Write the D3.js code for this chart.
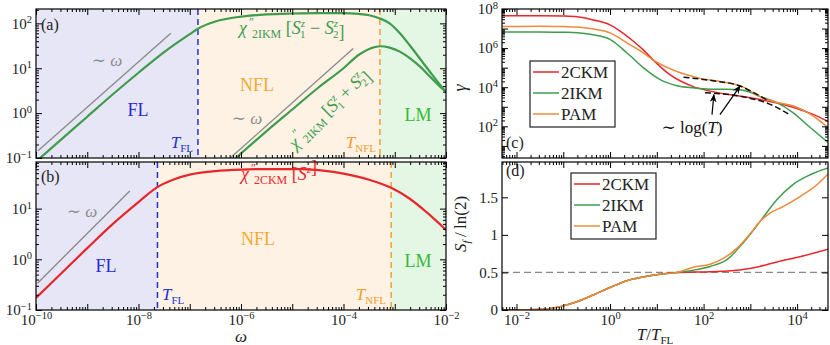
<!DOCTYPE html>
<html>
<head>
<meta charset="utf-8">
<script src="https://cdn.jsdelivr.net/npm/d3@7"></script>
<style>
  body { margin: 0; background: #fff; }
  svg { display: block; }
  text { font-family: "Liberation Serif", "DejaVu Serif", serif; }
</style>
</head>
<body>
<svg id="chart" width="830" height="345"></svg>
<script>
// values, pairs are [log10 x, log10 y] (panel d: [log10 T, S])
const omegaLabelExps = [-10, -8, -6, -4, -2];
const chiALabelExps = [-1, 0, 1, 2];
const chiBLabelExps = [-1, 0, 1];
const tLabelExps = [-2, 0, 2, 4];
const gammaLabelExps = [2, 4, 6, 8];
const entropyTicks = [0, 0.5, 1, 1.5];

const chi2IKMminus = [[-10, -1.08], [-9.5, -0.58], [-9, -0.08], [-8.5, 0.42], [-8, 0.9], [-7.5, 1.36],
  [-7, 1.76], [-6.84, 1.88], [-6.5, 2.04], [-6, 2.15], [-5.5, 2.2], [-5, 2.22], [-4.5, 2.23], [-4, 2.23],
  [-3.7, 2.21], [-3.5, 2.18], [-3.29, 2.11], [-3.1, 2.0], [-2.9, 1.78], [-2.7, 1.5], [-2.5, 1.2],
  [-2.3, 0.9], [-2.15, 0.68], [-2, 0.47]];
const chi2IKMplus = [[-6.1, -1], [-5.5, -0.4], [-5, 0.08], [-4.5, 0.56], [-4, 1.0], [-3.7, 1.3],
  [-3.5, 1.43], [-3.29, 1.49], [-3.1, 1.46], [-2.9, 1.37], [-2.7, 1.22], [-2.5, 1.03], [-2.3, 0.8],
  [-2.15, 0.63], [-2, 0.47]];
const chi2CKM = [[-10, -0.76], [-9.5, -0.27], [-9, 0.22], [-8.5, 0.7], [-8, 1.13], [-7.64, 1.42],
  [-7.3, 1.58], [-7, 1.67], [-6.5, 1.74], [-6, 1.77], [-5.5, 1.78], [-4.8, 1.78], [-4.4, 1.75],
  [-4, 1.69], [-3.5, 1.57], [-3.07, 1.41], [-2.7, 1.19], [-2.38, 0.93], [-2, 0.58]];
const slopeA1 = [[-9.96, -0.84], [-7.37, 1.78]];
const slopeA2 = [[-6.21, -1], [-3.81, 1.44]];
const slopeB = [[-9.97, -0.47], [-8.17, 1.35]];
const crossoverA = { fl: -6.84, nfl: -3.29 };
const crossoverB = { fl: -7.63, nfl: -3.07 };

const gamma2CKM = [[-2.31, 7.66], [-1.5, 7.66], [-1, 7.64], [-0.7, 7.6], [-0.36, 7.44], [0, 7.19],
  [0.2, 6.9], [0.5, 6.35], [0.71, 5.91], [0.92, 5.4], [1.28, 4.64], [1.78, 4.03], [2.14, 3.8],
  [2.84, 3.52], [3.42, 3.27], [3.91, 2.98], [4.3, 2.65], [4.66, 2.25]];
const gamma2IKM = [[-2.31, 6.83], [-1.5, 6.83], [-1, 6.81], [-0.7, 6.79], [-0.36, 6.68], [0, 6.45],
  [0.36, 5.76], [0.71, 5.0], [1.07, 4.39], [1.43, 4.08], [1.78, 3.97], [2.14, 3.9], [2.5, 3.89],
  [2.84, 3.85], [3.21, 3.52], [3.57, 3.21], [3.91, 2.7], [4.28, 1.94], [4.66, 1.18]];
const gammaPAM = [[-2.31, 7.1], [-1.5, 7.12], [-1, 7.1], [-0.7, 7.08], [-0.36, 6.98], [0, 6.78],
  [0.36, 6.27], [0.71, 5.76], [0.92, 5.4], [1.43, 4.8], [1.86, 4.49], [2.5, 4.23], [2.78, 4.08],
  [3.21, 3.52], [3.49, 3.27], [3.91, 3.05], [4.3, 2.6], [4.66, 1.94]];
const logFitPAM = [[1.57, 4.51], [2.2, 4.33], [2.78, 4.06], [3.05, 3.75], [3.35, 3.35]];
const logFit2CKM = [[2.03, 3.72], [2.84, 3.51], [3.4, 3.15], [3.85, 2.58]];
const arrowTips = [[2.22, 3.62], [2.78, 4.06]];
const arrowTails = [[2.18, 2.6], [2.35, 2.6]];

const entropyLow = [[-2.31, 0], [-2, 0.002], [-1.43, 0.01], [-1.07, 0.045], [-0.71, 0.11], [-0.36, 0.2],
  [0, 0.3], [0.36, 0.39], [0.71, 0.44], [1.07, 0.476], [1.43, 0.5]];
const entropy2CKM = entropyLow.concat([[1.78, 0.505], [2.14, 0.51], [2.5, 0.52], [2.84, 0.54],
  [3.2, 0.58], [3.57, 0.64], [4.06, 0.71], [4.66, 0.81]]);
const entropy2IKM = entropyLow.concat([[1.78, 0.53], [2.14, 0.58], [2.5, 0.67], [2.84, 0.89],
  [3.21, 1.18], [3.57, 1.47], [3.91, 1.67], [4.28, 1.8], [4.66, 1.89]]);
const entropyPAM = entropyLow.concat([[1.78, 0.57], [2.14, 0.61], [2.43, 0.69], [2.71, 0.82],
  [3.0, 1.02], [3.21, 1.18], [3.42, 1.29], [3.71, 1.38], [4.06, 1.51], [4.43, 1.67], [4.66, 1.81]]);

const models = ["2CKM", "2IKM", "PAM"];
const modelColors = ["#e8262b", "#3f9c4d", "#ee8a3a"];

const svg = d3.select('#chart');
const defs = svg.append('defs');

const xW = d3.scaleLog().domain([1e-10, 1e-2]).range([36, 446]);
const yA = d3.scaleLog().domain([0.1, 10 ** 2.32]).range([158, 9]);
const yB = d3.scaleLog().domain([0.1, 10 ** 1.92]).range([310, 162]);
const xT = d3.scaleLog().domain([10 ** -2.31, 10 ** 4.66]).range([502, 828]);
const yC = d3.scaleLog().domain([10 ** 0.38, 1e8]).range([158, 9]);
const yD = d3.scaleLinear().domain([0, 1.97]).range([310, 162]);

defs.append('marker').attr('id', 'arrow').attr('viewBox', '0 0 10 10').attr('refX', 9).attr('refY', 5)
  .attr('markerWidth', 7).attr('markerHeight', 7).attr('orient', 'auto-start-reverse')
  .append('path').attr('d', 'M0,1 L10,5 L0,9 L3,5 Z').attr('fill', '#000');

function clipFor(id, x, y) {
  defs.append('clipPath').attr('id', id).append('rect')
    .attr('x', x.range()[0]).attr('y', y.range()[1])
    .attr('width', x.range()[1] - x.range()[0]).attr('height', y.range()[0] - y.range()[1]);
  return `url(#${id})`;
}

function logLine(x, y) {
  return d3.line().x(d => x(10 ** d[0])).y(d => y(10 ** d[1])).curve(d3.curveMonotoneX);
}
function semiLogLine(x, y) {
  return d3.line().x(d => x(10 ** d[0])).y(d => y(d[1])).curve(d3.curveMonotoneX);
}

function logTicks(scale) {
  const [lo, hi] = scale.domain().map(Math.log10);
  const majors = [], minors = [];
  for (let k = Math.floor(lo); k <= Math.ceil(hi); k++) {
    if (k >= lo - 1e-9 && k <= hi + 1e-9) majors.push(10 ** k);
    for (let m = 2; m < 10; m++) {
      const v = m * 10 ** k;
      if (Math.log10(v) >= lo && Math.log10(v) <= hi) minors.push(v);
    }
  }
  return { majors, minors };
}

function powLabel(sel, exp) {
  sel.text('');
  sel.append('tspan').text('10');
  sel.append('tspan').attr('dy', '-0.5em').attr('font-size', 10.5)
    .text(exp < 0 ? '\u2212' + (-exp) : exp);
}

function addAxis(g, gen, scale, majors, minors, transform, labelFn) {
  const gm = g.append('g').attr('transform', transform)
    .call(gen(scale).tickValues(majors).tickSizeInner(-6).tickSizeOuter(0).tickPadding(4).tickFormat(() => ''));
  gm.select('.domain').remove();
  gm.attr('font-family', null).attr('font-size', 15);
  gm.selectAll('.tick line').attr('stroke', '#000');
  if (minors.length) {
    const gn = g.append('g').attr('transform', transform)
      .call(gen(scale).tickValues(minors).tickSizeInner(-3).tickSizeOuter(0).tickFormat(() => ''));
    gn.select('.domain').remove();
    gn.selectAll('.tick line').attr('stroke', '#000');
  }
  if (labelFn) gm.selectAll('.tick text').attr('fill', '#222').each(function (d) { labelFn(d3.select(this), d); });
}

function frame(g, x, y) {
  g.append('rect').attr('x', x.range()[0]).attr('y', y.range()[1])
    .attr('width', x.range()[1] - x.range()[0]).attr('height', y.range()[0] - y.range()[1])
    .attr('fill', 'none').attr('stroke', '#000').attr('stroke-width', 1.2);
}

function logAxes(g, x, y, xLabels, yLabels) {
  const tx = logTicks(x), ty = logTicks(y);
  const [x0, x1] = x.range(), [y1, y0] = y.range();
  const lab = set => (sel, d) => {
    const e = Math.round(Math.log10(d));
    if (set && set.includes(e)) powLabel(sel, e); else sel.text('');
  };
  addAxis(g, d3.axisBottom, x, tx.majors, tx.minors, `translate(0,${y1})`, lab(xLabels));
  addAxis(g, d3.axisTop, x, tx.majors, tx.minors, `translate(0,${y0})`, null);
  addAxis(g, d3.axisLeft, y, ty.majors, ty.minors, `translate(${x0},0)`, lab(yLabels));
  addAxis(g, d3.axisRight, y, ty.majors, ty.minors, `translate(${x1},0)`, null);
}

function rich(parent, x, y, parts, attrs = {}) {
  const t = parent.append('text').attr('x', x).attr('y', y);
  Object.entries(attrs).forEach(([k, v]) => t.attr(k, v));
  parts.forEach(p => {
    const o = p[1] || {};
    const s = t.append('tspan').text(p[0]);
    if (o.i) s.attr('font-style', 'italic');
    if (o.s) s.attr('font-size', o.s);
    if (o.dy) s.attr('dy', o.dy);
    if (o.dx) s.attr('dx', o.dx);
  });
  return t;
}

const sub = (txt, label) => [[txt, { i: 1 }], [label, { s: 11, dy: 4 }]];

// ---------- left panels ----------
function regimePanel(id, y, cross, curves, slopes, labels) {
  const g = svg.append('g');
  const [y1, y0] = y.range();
  const xs = [xW.domain()[0], 10 ** cross.fl, 10 ** cross.nfl, xW.domain()[1]];
  const fills = ['#e6e6f6', '#fdf2e4', '#e4f6e4'];
  fills.forEach((f, i) => g.append('rect').attr('x', xW(xs[i])).attr('y', y0)
    .attr('width', xW(xs[i + 1]) - xW(xs[i])).attr('height', y1 - y0).attr('fill', f));
  const cp = clipFor(id, xW, y);
  const plot = g.append('g').attr('clip-path', cp);
  slopes.forEach(s => plot.append('path').attr('d', logLine(xW, y)(s))
    .attr('fill', 'none').attr('stroke', '#8c8c8c').attr('stroke-width', 1.4));
  plot.append('line').attr('x1', xW(10 ** cross.fl)).attr('x2', xW(10 ** cross.fl)).attr('y1', y0).attr('y2', y1)
    .attr('stroke', '#2233cc').attr('stroke-width', 1.5).attr('stroke-dasharray', '6,4');
  plot.append('line').attr('x1', xW(10 ** cross.nfl)).attr('x2', xW(10 ** cross.nfl)).attr('y1', y0).attr('y2', y1)
    .attr('stroke', '#f4a030').attr('stroke-width', 1.5).attr('stroke-dasharray', '6,4');
  curves.forEach(c => plot.append('path').attr('d', logLine(xW, y)(c.data))
    .attr('fill', 'none').attr('stroke', c.color).attr('stroke-width', 2.2));
  labels(g);
  return g;
}

const chiParts = (model, spin) => [['\u03C7', { i: 1 }], ['\u2033', { s: 12, dy: -8, dx: 2 }],
  [model, { s: 12, dy: 12, dx: -2 }], ['\u00A0[', { dy: -4 }]].concat(spin).concat([[']', { dy: 0 }]]);
const spinPair = sign => [['S', { i: 1 }], ['z', { i: 1, s: 11, dy: -7 }], ['1', { s: 11, dy: 11, dx: -5 }],
  [` ${sign} `, { dy: -4 }], ['S', { i: 1 }], ['z', { i: 1, s: 11, dy: -7 }], ['2', { s: 11, dy: 11, dx: -5 }],
  ['', { dy: -4 }]];

const gA = regimePanel('clipA', yA, crossoverA,
  [{ data: chi2IKMminus, color: modelColors[1] }, { data: chi2IKMplus, color: modelColors[1] }],
  [slopeA1, slopeA2], g => {
    rich(g, 41, 30, [['(a)']], { 'font-size': 16, fill: '#222' });
    rich(g, 107, 66, [['\u223C '], ['\u03C9', { i: 1 }]], { 'font-size': 17, fill: '#8c8c8c', 'text-anchor': 'middle' });
    rich(g, 247, 124, [['\u223C '], ['\u03C9', { i: 1 }]], { 'font-size': 17, fill: '#8c8c8c', 'text-anchor': 'middle' });
    rich(g, 138, 116, [['FL']], { 'font-size': 18, fill: '#2b2bd0', 'text-anchor': 'middle' });
    rich(g, 193, 148, sub('T', 'FL'), { 'font-size': 17, fill: '#2233cc', 'text-anchor': 'end' });
    rich(g, 257, 91, [['NFL']], { 'font-size': 18, fill: '#f7a833', 'text-anchor': 'middle' });
    rich(g, 418, 121, [['LM']], { 'font-size': 18, fill: '#33bb33', 'text-anchor': 'middle' });
    rich(g, 376, 148, sub('T', 'NFL'), { 'font-size': 17, fill: '#f39c2b', 'text-anchor': 'end' });
    rich(g, 239, 34, chiParts('2IKM', spinPair('\u2212')), { 'font-size': 18, fill: modelColors[1] });
    rich(g, 0, 0, chiParts('2IKM', spinPair('+')), { 'font-size': 18, fill: modelColors[1], 'text-anchor': 'middle',
      transform: 'translate(333,113) rotate(-44.6)' });
  });
logAxes(gA, xW, yA, null, chiALabelExps);
frame(gA, xW, yA);

const gB = regimePanel('clipB', yB, crossoverB, [{ data: chi2CKM, color: modelColors[0] }], [slopeB], g => {
  rich(g, 41, 182, [['(b)']], { 'font-size': 16, fill: '#222' });
  rich(g, 82, 217, [['\u223C '], ['\u03C9', { i: 1 }]], { 'font-size': 17, fill: '#8c8c8c', 'text-anchor': 'middle' });
  rich(g, 106, 272, [['FL']], { 'font-size': 18, fill: '#2b2bd0', 'text-anchor': 'middle' });
  rich(g, 162, 300, sub('T', 'FL'), { 'font-size': 17, fill: '#2233cc' });
  rich(g, 258, 245, [['NFL']], { 'font-size': 18, fill: '#f7a833', 'text-anchor': 'middle' });
  rich(g, 418, 267, [['LM']], { 'font-size': 18, fill: '#33bb33', 'text-anchor': 'middle' });
  rich(g, 386, 300, sub('T', 'NFL'), { 'font-size': 17, fill: '#f39c2b', 'text-anchor': 'end' });
  rich(g, 241, 180, chiParts('2CKM', [['S', { i: 1 }], ['z', { i: 1, s: 11, dy: -7 }], ['', { dy: 7 }]]),
    { 'font-size': 18, fill: modelColors[0] });
});
logAxes(gB, xW, yB, omegaLabelExps, chiBLabelExps);
frame(gB, xW, yB);
rich(svg, 241, 342, [['\u03C9', { i: 1 }]], { 'font-size': 17, fill: '#222', 'text-anchor': 'middle' });

// ---------- right panels ----------
const gC = svg.append('g');
const plotC = gC.append('g').attr('clip-path', clipFor('clipC', xT, yC));
[gamma2CKM, gamma2IKM, gammaPAM].forEach((s, i) => plotC.append('path').attr('d', logLine(xT, yC)(s))
  .attr('fill', 'none').attr('stroke', modelColors[i]).attr('stroke-width', 1.5));
[logFitPAM, logFit2CKM].forEach(s => plotC.append('path').attr('d', logLine(xT, yC)(s))
  .attr('fill', 'none').attr('stroke', '#111').attr('stroke-width', 1.5).attr('stroke-dasharray', '6,3'));
arrowTips.forEach((tip, i) => gC.append('line')
  .attr('x1', xT(10 ** arrowTails[i][0])).attr('y1', yC(10 ** arrowTails[i][1]))
  .attr('x2', xT(10 ** tip[0])).attr('y2', yC(10 ** tip[1]))
  .attr('stroke', '#000').attr('stroke-width', 1.2).attr('marker-end', 'url(#arrow)'));
rich(gC, 692, 133, [['\u223C log('], ['T', { i: 1 }], [')']], { 'font-size': 17, fill: '#111', 'text-anchor': 'middle' });
rich(gC, 506, 148, [['(c)']], { 'font-size': 16, fill: '#222' });
logAxes(gC, xT, yC, null, gammaLabelExps);
frame(gC, xT, yC);
rich(svg, 0, 0, [['\u03B3', { i: 1 }]], { 'font-size': 18, fill: '#222', 'text-anchor': 'middle',
  transform: 'translate(466,88) rotate(-90)' });

function legend(g, x, y) {
  const box = g.append('g').attr('transform', `translate(${x},${y})`);
  box.append('rect').attr('width', 85).attr('height', 66).attr('fill', '#fff').attr('stroke', '#222').attr('stroke-width', 1.2);
  models.forEach((m, i) => {
    const row = box.append('g').attr('transform', `translate(0,${11 + i * 21})`);
    row.append('line').attr('x1', 3).attr('x2', 29).attr('stroke', modelColors[i]).attr('stroke-width', 1.5);
    row.append('text').attr('x', 31).attr('y', 6).attr('font-size', 17).attr('fill', '#222').text(m);
  });
}
legend(gC, 530, 61);

const gD = svg.append('g');
const plotD = gD.append('g').attr('clip-path', clipFor('clipD', xT, yD));
plotD.append('line').attr('x1', xT.range()[0]).attr('x2', xT.range()[1]).attr('y1', yD(0.5)).attr('y2', yD(0.5))
  .attr('stroke', '#888').attr('stroke-width', 1.2).attr('stroke-dasharray', '7,4');
[entropy2CKM, entropy2IKM, entropyPAM].forEach((s, i) => plotD.append('path').attr('d', semiLogLine(xT, yD)(s))
  .attr('fill', 'none').attr('stroke', modelColors[i]).attr('stroke-width', 1.5));
rich(gD, 506, 176, [['(d)']], { 'font-size': 16, fill: '#222' });
const tx = logTicks(xT);
const xLab = (sel, d) => {
  const e = Math.round(Math.log10(d));
  if (tLabelExps.includes(e)) powLabel(sel, e); else sel.text('');
};
addAxis(gD, d3.axisBottom, xT, tx.majors, tx.minors, `translate(0,${yD.range()[0]})`, xLab);
addAxis(gD, d3.axisTop, xT, tx.majors, tx.minors, `translate(0,${yD.range()[1]})`, null);
addAxis(gD, d3.axisLeft, yD, entropyTicks, [], `translate(${xT.range()[0]},0)`, (sel, d) => sel.text(d));
addAxis(gD, d3.axisRight, yD, entropyTicks, [], `translate(${xT.range()[1]},0)`, null);
frame(gD, xT, yD);
legend(gD, 571, 173);
rich(svg, 0, 0, [['S', { i: 1 }], ['f', { i: 1, s: 11, dy: 4 }], ['\u2009/\u2009ln(2)', { dy: -4 }]],
  { 'font-size': 17, fill: '#222', 'text-anchor': 'middle', transform: 'translate(466,224) rotate(-90)' });
rich(svg, 655, 340, [['T', { i: 1 }], ['/'], ['T', { i: 1 }], ['FL', { s: 11, dy: 4 }]],
  { 'font-size': 17, fill: '#222', 'text-anchor': 'middle' });
</script>
</body>
</html>
